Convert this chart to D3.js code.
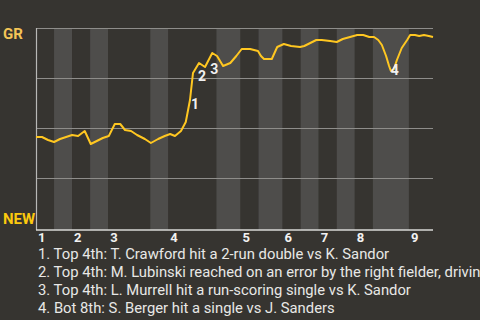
<!DOCTYPE html>
<html>
<head>
<meta charset="utf-8">
<script src="https://cdn.jsdelivr.net/npm/d3@7"></script>
<style>
  html, body { margin: 0; padding: 0; background: #363430; }
  svg { display: block; }
  text { font-family: Roboto, "Noto Sans", sans-serif; }
</style>
</head>
<body>
<svg id="chart" width="480" height="320"></svg>
<script>
// Half-inning lengths, in plate-appearance units (top 1st ... top 9th)
const halfInnings = [3, 3, 3, 3, 7, 3, 8, 4, 3, 4, 3, 3, 3, 3, 3, 6, 4];
const inningLabels = ["1", "2", "3", "4", "5", "6", "7", "8", "9"];

// Win probability for GR (percent) along the game
const eventPos = [0, 1.0, 2.0, 3.0, 4.0, 5.0, 6.0, 7.0, 8.1, 9.1, 10.1, 11.1, 12.1, 13.1, 14.0,
  14.8, 15.8, 16.8, 18.1, 19.1, 20.3, 21.4, 22.3, 23.1, 24.1, 24.9, 25.6, 26.1, 27.1, 28.1,
  29.3, 30.1, 31.1, 32.3, 33.3, 34.2, 35.6, 36.9, 37.4, 37.9, 39.2, 40.1, 41.2, 42.4, 43.9,
  44.6, 45.6, 46.6, 47.5, 48.9, 50.0, 51.0, 52.2, 53.4, 54.4, 55.4, 56.2, 56.9, 57.5, 58.2,
  58.7, 59.0, 59.5, 60.0, 60.8, 61.7, 62.2, 63.0, 63.7, 64.5, 65.3, 66.0];
const grWinPct = [45.5, 45.5, 44, 43, 44.5, 45.5, 46.5, 46, 48.5, 42, 43.5, 45, 46, 52, 52,
  49, 48.5, 46.5, 44.5, 42.5, 44.5, 46, 47, 46, 48.5, 53, 64, 77.5, 82.5, 80.5,
  87.5, 86, 81, 82.5, 86, 89.5, 89.5, 88.5, 86, 84.5, 84.5, 90.5, 92, 91, 90.5,
  91, 92.5, 94, 94, 93.5, 93, 94.5, 95.5, 96.5, 96.5, 95.5, 95.5, 94, 91.5, 86,
  81, 78.5, 79.5, 84, 90, 94, 96.5, 96.5, 96, 96.5, 96, 95.5];

// Key plays: which point of the line each one belongs to
const playPoint = [26, 28, 30, 61];
const playText = [
  "1. Top 4th: T. Crawford hit a 2-run double vs K. Sandor",
  "2. Top 4th: M. Lubinski reached on an error by the right fielder, driving in a run",
  "3. Top 4th: L. Murrell hit a run-scoring single vs K. Sandor",
  "4. Bot 8th: S. Berger hit a single vs J. Sanders"
];

const teamTop = "GR";
const teamBottom = "NEW";
const yTicks = [0, 25, 50, 75, 100];

const svg = d3.select("#chart");
const plotLeft = 36, plotRight = 433, plotTop = 28, plotBottom = 228;

const totalUnits = d3.sum(halfInnings);
const x = d3.scaleLinear().domain([0, totalUnits]).range([plotLeft, plotRight]);
const y = d3.scaleLinear().domain([0, 100]).range([plotBottom, plotTop]);

// half-inning boundaries
const bounds = [0];
halfInnings.forEach(n => bounds.push(bounds[bounds.length - 1] + n));

// alternating shading: bottom halves are lighter
svg.append("g").selectAll("rect")
  .data(halfInnings.map((n, i) => ({ start: bounds[i], end: bounds[i + 1], i })))
  .join("rect")
  .attr("x", d => x(d.start))
  .attr("width", d => x(d.end) - x(d.start))
  .attr("y", plotTop)
  .attr("height", plotBottom + 2 - plotTop)
  .attr("fill", d => d.i % 2 === 1 ? "#4e4d4b" : "#363430");

// horizontal grid
svg.append("g").selectAll("line")
  .data(yTicks.filter(t => t > 0))
  .join("line")
  .attr("x1", plotLeft).attr("x2", plotRight)
  .attr("y1", d => Math.round(y(d)) + 0.5)
  .attr("y2", d => Math.round(y(d)) + 0.5)
  .attr("stroke", "#8e8d8a")
  .attr("stroke-width", 1.2);

// left axis line
svg.append("line")
  .attr("x1", plotLeft + 0.5).attr("x2", plotLeft + 0.5)
  .attr("y1", plotTop).attr("y2", plotBottom + 2)
  .attr("stroke", "#b8b8b6").attr("stroke-width", 1.2);

// bottom axis line
svg.append("line")
  .attr("x1", plotLeft).attr("x2", plotRight)
  .attr("y1", plotBottom + 2).attr("y2", plotBottom + 2)
  .attr("stroke", "#d8d8d6").attr("stroke-width", 1.6);

// inning numbers at the start of each top half
svg.append("g").selectAll("text")
  .data(inningLabels)
  .join("text")
  .attr("x", (d, i) => x(bounds[i * 2]) + 2)
  .attr("y", 241.5)
  .attr("fill", "#f2f2f2")
  .attr("font-size", 13)
  .attr("font-weight", "bold")
  .text(d => d);

// team labels
svg.append("text")
  .attr("x", 3).attr("y", 38.5)
  .attr("fill", "#f4c457").attr("font-size", 15).attr("font-weight", "bold")
  .text(teamTop);
svg.append("text")
  .attr("x", 3).attr("y", 224)
  .attr("fill", "#fcc90e").attr("font-size", 15).attr("font-weight", "bold")
  .text(teamBottom);

// win probability line
const pts = eventPos.map((p, i) => [p, grWinPct[i]]);
svg.append("path")
  .datum(pts)
  .attr("fill", "none")
  .attr("stroke", "#ffc721")
  .attr("stroke-width", 2)
  .attr("stroke-linejoin", "round")
  .attr("d", d3.line().x(d => x(d[0])).y(d => y(d[1])));

// key play markers, nudged off the line
const markerShift = [[5, 9], [3, 18], [2, 21], [4, 4]];
svg.append("g").selectAll("text")
  .data(playPoint)
  .join("text")
  .attr("x", (d, i) => x(eventPos[d]) + markerShift[i][0])
  .attr("y", (d, i) => y(grWinPct[d]) + markerShift[i][1])
  .attr("text-anchor", "middle")
  .attr("fill", "#f0f0f0")
  .attr("font-size", 14)
  .attr("font-weight", "bold")
  .text((d, i) => i + 1);

// key play descriptions
svg.append("g").selectAll("text")
  .data(playText)
  .join("text")
  .attr("x", 38)
  .attr("y", (d, i) => 258.5 + i * 18)
  .attr("fill", "#e8e8e6")
  .attr("font-size", 14.8)
  .text(d => d);
</script>
</body>
</html>
